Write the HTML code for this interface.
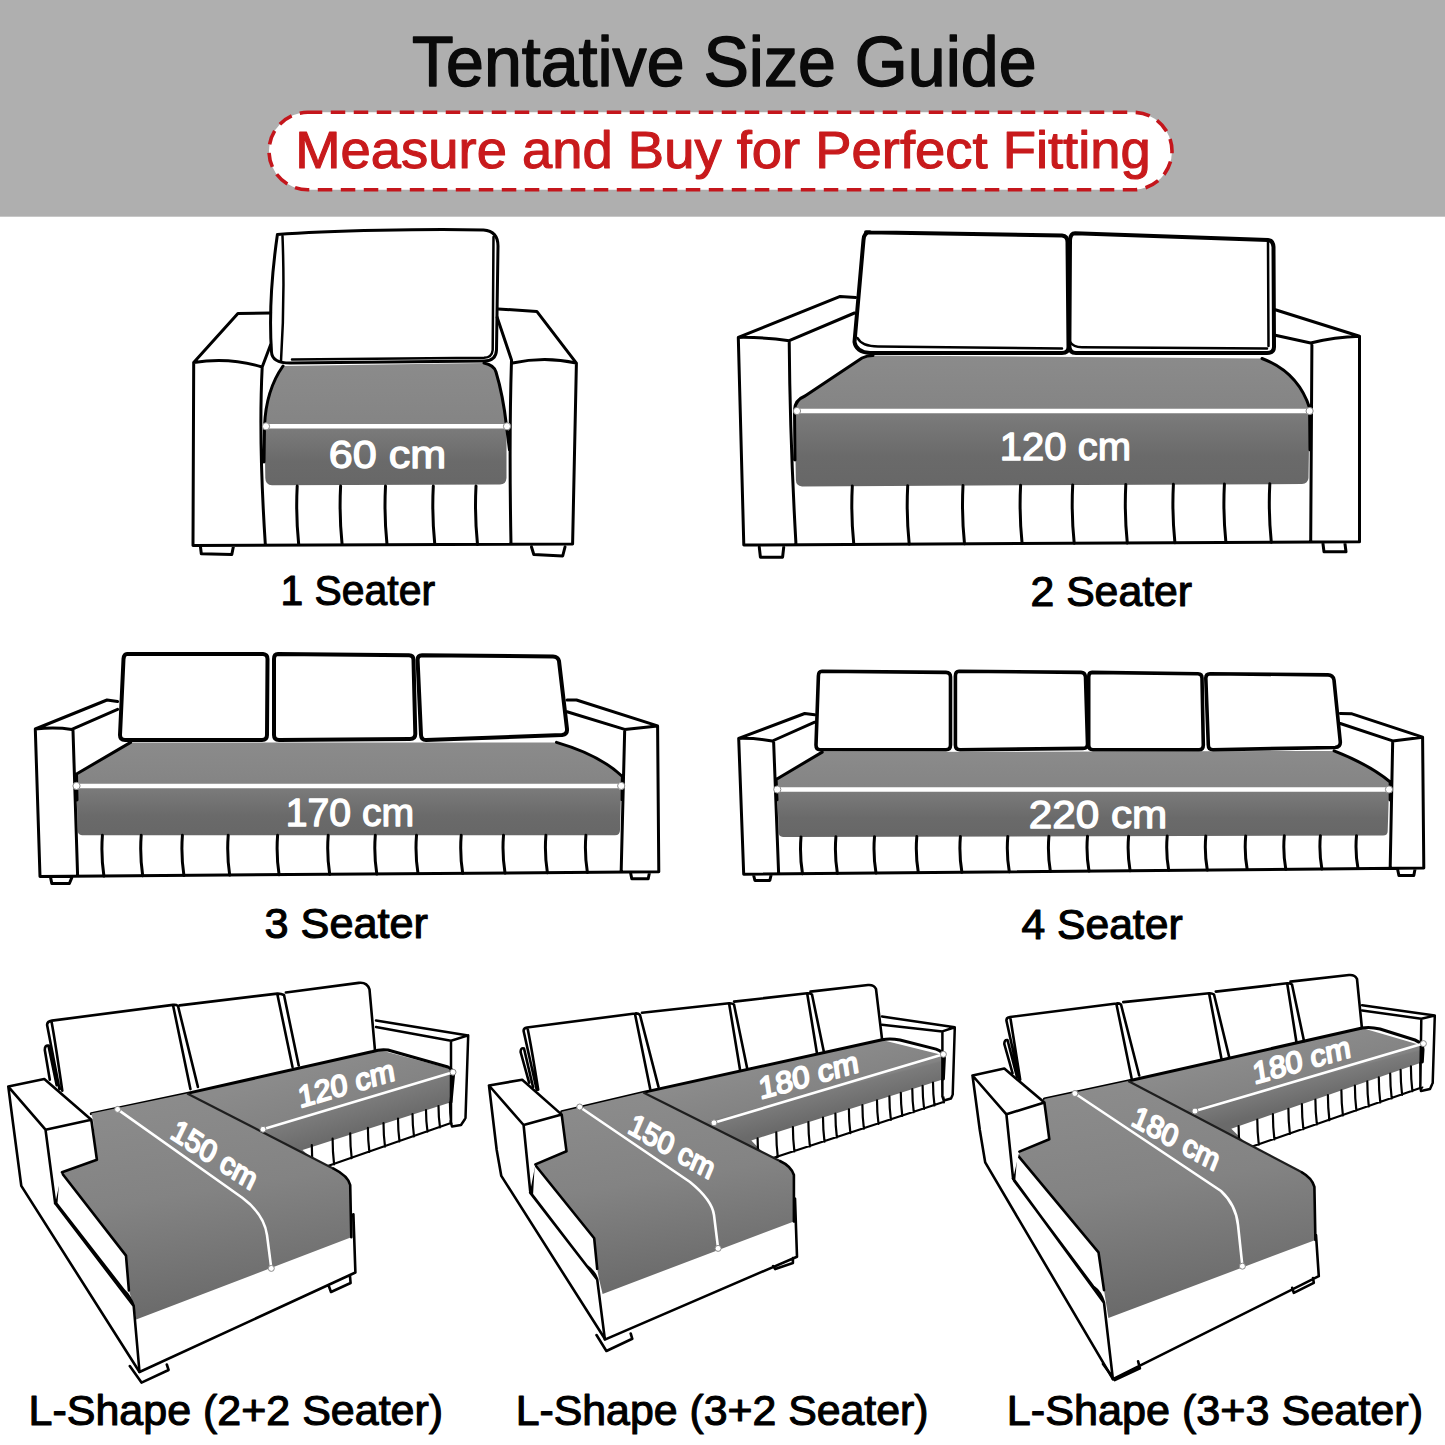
<!DOCTYPE html>
<html><head><meta charset="utf-8"><title>Tentative Size Guide</title>
<style>
html,body{margin:0;padding:0;background:#fff;}
body{width:1445px;height:1445px;overflow:hidden;}
svg{display:block;}
text{font-family:"Liberation Sans",sans-serif;}
</style></head><body>
<svg width="1445" height="1445" viewBox="0 0 1445 1445">
<defs>

<linearGradient id="g1" gradientUnits="userSpaceOnUse" x1="0" y1="364" x2="0" y2="486"><stop offset="0" stop-color="#8b8b8b"/><stop offset="0.508" stop-color="#848484"/><stop offset="0.528" stop-color="#7b7b7b"/><stop offset="0.803" stop-color="#6a6a6a"/><stop offset="1" stop-color="#676767"/></linearGradient>
<linearGradient id="g2" gradientUnits="userSpaceOnUse" x1="0" y1="356" x2="0" y2="487"><stop offset="0" stop-color="#8b8b8b"/><stop offset="0.420" stop-color="#848484"/><stop offset="0.440" stop-color="#7b7b7b"/><stop offset="0.768" stop-color="#6a6a6a"/><stop offset="1" stop-color="#676767"/></linearGradient>
<linearGradient id="g3" gradientUnits="userSpaceOnUse" x1="0" y1="742" x2="0" y2="836"><stop offset="0" stop-color="#8b8b8b"/><stop offset="0.468" stop-color="#848484"/><stop offset="0.488" stop-color="#7b7b7b"/><stop offset="0.787" stop-color="#6a6a6a"/><stop offset="1" stop-color="#676767"/></linearGradient>
<linearGradient id="g4" gradientUnits="userSpaceOnUse" x1="0" y1="751" x2="0" y2="837"><stop offset="0" stop-color="#8b8b8b"/><stop offset="0.448" stop-color="#848484"/><stop offset="0.468" stop-color="#7b7b7b"/><stop offset="0.779" stop-color="#6a6a6a"/><stop offset="1" stop-color="#676767"/></linearGradient>
<linearGradient id="gc" gradientUnits="objectBoundingBox" x1="0.3" y1="0" x2="0.5" y2="1">
<stop offset="0" stop-color="#8c8c8c"/><stop offset="0.45" stop-color="#838383"/><stop offset="1" stop-color="#686868"/></linearGradient>
<linearGradient id="gr" gradientUnits="objectBoundingBox" x1="0.5" y1="0" x2="0.55" y2="1">
<stop offset="0" stop-color="#8a8a8a"/><stop offset="0.5" stop-color="#838383"/><stop offset="1" stop-color="#6e6e6e"/></linearGradient>

<linearGradient id="gr1" gradientUnits="userSpaceOnUse" x1="320" y1="1063.4" x2="342.3" y2="1137.2"><stop offset="0" stop-color="#8b8b8b"/><stop offset="0.600" stop-color="#838383"/><stop offset="0.630" stop-color="#7b7b7b"/><stop offset="1" stop-color="#6a6a6a"/></linearGradient>
<linearGradient id="gr2" gradientUnits="userSpaceOnUse" x1="800" y1="1057.8" x2="816" y2="1119.8"><stop offset="0" stop-color="#8b8b8b"/><stop offset="0.585" stop-color="#838383"/><stop offset="0.615" stop-color="#7b7b7b"/><stop offset="1" stop-color="#6a6a6a"/></linearGradient>
<linearGradient id="gr3" gradientUnits="userSpaceOnUse" x1="1290" y1="1044.3" x2="1305.1" y2="1103.1"><stop offset="0" stop-color="#8b8b8b"/><stop offset="0.610" stop-color="#838383"/><stop offset="0.640" stop-color="#7b7b7b"/><stop offset="1" stop-color="#6a6a6a"/></linearGradient>
</defs>
<rect x="0" y="0" width="1445" height="216.7" fill="#afafaf"/>
<text x="412" y="86.3" font-size="70" fill="#0a0a0a" stroke="#0a0a0a" stroke-width="1.5" stroke-linejoin="round" text-anchor="start" textLength="624.5" lengthAdjust="spacingAndGlyphs" >Tentative Size Guide</text>
<rect x="269" y="112.3" width="903" height="77.5" rx="38.75" ry="38.75" fill="#fff" stroke="#c4161c" stroke-width="3.6" stroke-dasharray="14.5 8.5"/>
<text x="295.3" y="167.9" font-size="52.7" fill="#c81a1c" stroke="#c81a1c" stroke-width="1.1" stroke-linejoin="round" text-anchor="start" textLength="855.5" lengthAdjust="spacingAndGlyphs" >Measure and Buy for Perfect Fitting</text>
<g>
<path d="M283,366 L484,363 Q494,365 496,372 Q503,395 506.5,426 L506.5,478 Q506,484.5 500,484.5 L272,485.3 Q265.5,485 265.3,478 L264.5,426 Q266,390 283,366 Z" fill="url(#g1)"/>
<path fill="none" stroke="#000" stroke-linecap="round" stroke-linejoin="round" stroke-width="3" d="M270.6,312.9 L237.9,313.6 L193.7,362.4 L193,545.4 M193.7,362.4 Q230,357 262.2,367 M270.6,344.8 L262.2,367 Q258.5,440 265.3,544 M498,309 L536.8,311.4 L576.4,363.1 L572.6,544 M512.5,363 Q545,356 576.4,363.1 M497.2,317.4 L511.5,360 Q509,440 511,544 M193,545.4 L572.6,544 M200.5,547 L201.3,553.8 L231.8,554.5 L233.3,547 M531.5,547 L533.8,554.5 L562.7,556 L565,547 M283,366 Q266,390 264.5,426 L264,462 M484,363 Q494,365 496,372 Q503,395 506.5,426 L509.5,450"/>
<path fill="none" stroke="#000" stroke-linecap="round" stroke-linejoin="round" stroke-width="3" fill="#fff" d="M277.4,234.5 C330,230 430,229 483.5,229.9 Q498,231 498,246 L496.5,350 Q496,361 484,361 L290,363 Q272,363 271.5,352 Q268,300 277.4,234.5 Z"/>
<path fill="none" stroke="#000" stroke-linecap="round" stroke-linejoin="round" stroke-width="2.5" d="M282.5,236 Q285,300 281,361 M493.5,237 L492.7,350 Q492,357.5 484,357.8 L292,359.5"/>
<path fill="none" stroke="#000" stroke-linecap="round" stroke-linejoin="round" stroke-width="3" d="M297.2,486.0 Q295.7,515.2 298.7,544.5 M340.6,486.0 Q339.1,515.2 342.1,544.5 M385.5,486.0 Q384.0,515.2 387.0,544.5 M433.3,486.0 Q431.8,515.2 434.8,544.5 M476.0,486.0 Q474.5,515.2 477.5,544.5 "/>
<path d="M266,426.3 L507,426.3" stroke="#fff" stroke-width="4.5"/><circle cx="266" cy="426.3" r="3.6" fill="#fff" stroke="#8a8a8a" stroke-width="1"/><circle cx="507" cy="426.3" r="3.6" fill="#fff" stroke="#8a8a8a" stroke-width="1"/>
<text x="328.7" y="467.5" font-size="39.4" fill="#fff" stroke="#fff" stroke-width="1.3" stroke-linejoin="round" text-anchor="start" textLength="117.5" lengthAdjust="spacingAndGlyphs" >60 cm</text>
<text x="280.5" y="605.0" font-size="42" fill="#000" stroke="#000" stroke-width="1.1" stroke-linejoin="round" text-anchor="start" textLength="154.5" lengthAdjust="spacingAndGlyphs" >1 Seater</text>
</g>
<g>
<path d="M873,355.5 L1262,358.5 Q1298,372 1309.6,408 L1308.5,478 Q1308,483.5 1302,484 L802,486.4 Q796,486 795.9,480 L794.5,410 Q795,400 805,396 L862,358 Q867,355.5 873,355.5 Z" fill="url(#g2)"/>
<path fill="none" stroke="#000" stroke-linecap="round" stroke-linejoin="round" stroke-width="3" d="M855.7,297.5 L840.2,296.4 L738.3,337.4 L743.8,545 M738.3,337.4 Q765,337 789.2,340.7 L854.5,313 M789.2,340.7 Q790,440 795.9,542.8 M1275.3,309.7 L1359.5,336.3 L1359.5,541.7 M1275.3,335.2 L1310.7,343 Q1335,337 1359.5,336.3 M1311.9,345 L1310.7,541.7 M743.8,545 L1359.5,541.7 M759.3,547.3 L760.4,557.2 L782.6,557.2 L783.7,547.3 M1323,544 L1324,551.7 L1346,551.7 L1345,544 M873,355.5 Q867,355.5 862,358 L805,396 Q795,400 794.5,410 L795,460 M1262,358.5 Q1298,372 1309.6,408 L1310,450"/>
<path fill="none" stroke="#000" stroke-linecap="round" stroke-linejoin="round" stroke-width="4" fill="#fff" d="M866,232.2 L1062,235.5 Q1067.5,236 1067.5,242 L1068.5,347 Q1068.5,353 1062,353 L870,353 Q856,352 854.5,342 L863.5,240 Q864,232.2 870,232.2 Z"/>
<path fill="none" stroke="#000" stroke-linecap="round" stroke-linejoin="round" stroke-width="4" fill="#fff" d="M1075,233.3 L1268,240 Q1273,240.5 1273.5,247 L1274,347 Q1274,353 1267,353 L1076,353 Q1069.4,353 1069.4,346 L1070,240 Q1070.5,233.3 1075,233.3 Z"/>
<path fill="none" stroke="#000" stroke-linecap="round" stroke-linejoin="round" stroke-width="2.5" d="M857.5,338 Q862,346.5 878,346.5 L1062,348.5 M1069.5,341 Q1073,347.3 1082,347.3 L1267,348.5 M1268,242 L1268.5,346"/>
<path fill="none" stroke="#000" stroke-linecap="round" stroke-linejoin="round" stroke-width="3" d="M852.3,486.1 Q850.8,515.3 853.8,544.4 M907.7,485.8 Q906.2,515.0 909.2,544.1 M963.0,485.5 Q961.5,514.7 964.5,543.8 M1020.6,485.2 Q1019.1,514.3 1022.1,543.5 M1072.7,484.9 Q1071.2,514.1 1074.2,543.2 M1125.8,484.6 Q1124.3,513.8 1127.3,543.0 M1173.4,484.3 Q1171.9,513.5 1174.9,542.7 M1224.4,484.1 Q1222.9,513.2 1225.9,542.4 M1269.8,483.8 Q1268.3,513.0 1271.3,542.2 "/>
<path d="M797,411 L1309.6,411" stroke="#fff" stroke-width="4.5"/><circle cx="797" cy="411" r="3.6" fill="#fff" stroke="#8a8a8a" stroke-width="1"/><circle cx="1309.6" cy="411" r="3.6" fill="#fff" stroke="#8a8a8a" stroke-width="1"/>
<text x="999.8" y="459.7" font-size="39.4" fill="#fff" stroke="#fff" stroke-width="1.3" stroke-linejoin="round" text-anchor="start" textLength="131.2" lengthAdjust="spacingAndGlyphs" >120 cm</text>
<text x="1030.5" y="605.5" font-size="42" fill="#000" stroke="#000" stroke-width="1.1" stroke-linejoin="round" text-anchor="start" textLength="161.5" lengthAdjust="spacingAndGlyphs" >2 Seater</text>
</g>
<g>
<path d="M130.6,742.4 L556.5,742.4 Q600,755 622.4,776.5 L621.2,786 L620,830 Q620,835.3 615,835.3 L82,835.3 Q77.6,835 77.6,830 L76.5,786 L76.5,774 Z" fill="url(#g3)"/>
<path fill="none" stroke="#000" stroke-linecap="round" stroke-linejoin="round" stroke-width="3" d="M117.6,701.6 L107,700 L35.3,729 L40,876.5 M35.3,729 Q55,727 71.8,729.4 L117.6,709.4 M73,730.6 L77.6,875.3 M567,700 L576.5,700 L657.6,725.9 L658.8,871.8 M567,711.8 L624.7,729.4 L657.6,725.9 M624.7,729.4 L621.2,870.6 M40,876.5 L658.8,871.8 M50.6,877.6 L51.8,883.5 L69.4,883.5 L71.8,877.6 M630.6,873 L631.8,878.8 L648.2,878.8 L649.4,873 M130.6,742.4 L76.5,774 L77,800 M556.5,742.4 Q600,755 622.4,776.5 L622,800"/>
<path fill="none" stroke="#000" stroke-linecap="round" stroke-linejoin="round" stroke-width="4" fill="#fff" d="M127,654.1 L263,654.1 Q267.5,654.5 267.5,659 L267,735 Q267,740 262,740 L125,740 Q120,740 120,735 L123.5,659 Q124,654.1 127,654.1Z"/>
<path fill="none" stroke="#000" stroke-linecap="round" stroke-linejoin="round" stroke-width="4" fill="#fff" d="M278,654 L409,655.3 Q413.5,655.5 413.5,660 L415.3,734 Q415.3,739 410,739 L279,740 Q274,740 274,735 L274,659 Q274,654 278,654Z"/>
<path fill="none" stroke="#000" stroke-linecap="round" stroke-linejoin="round" stroke-width="4" fill="#fff" d="M422,655.3 L553,656.5 Q558,656.8 559,661 L567,729 Q567.5,734 562,735 L426,740 Q421.2,740 421,735 L417.6,660 Q417.6,655.3 422,655.3Z"/>
<path fill="none" stroke="#000" stroke-linecap="round" stroke-linejoin="round" stroke-width="3" d="M102.4,835.3 Q100.9,855.7 103.9,876.0 M141.2,835.3 Q139.7,855.5 142.7,875.7 M182.4,835.3 Q180.9,855.4 183.9,875.4 M228.2,835.3 Q226.7,855.2 229.7,875.1 M277.6,835.3 Q276.1,855.0 279.1,874.7 M328.2,835.3 Q326.7,854.8 329.7,874.3 M375.3,835.3 Q373.8,854.6 376.8,874.0 M416.5,835.3 Q415.0,854.5 418.0,873.6 M461.2,835.3 Q459.7,854.3 462.7,873.3 M503.5,835.3 Q502.0,854.1 505.0,873.0 M545.9,835.3 Q544.4,854.0 547.4,872.7 M585.9,835.3 Q584.4,853.8 587.4,872.4 "/>
<path d="M76.5,785.9 L621.2,785.9" stroke="#fff" stroke-width="4.5"/><circle cx="76.5" cy="785.9" r="3.6" fill="#fff" stroke="#8a8a8a" stroke-width="1"/><circle cx="621.2" cy="785.9" r="3.6" fill="#fff" stroke="#8a8a8a" stroke-width="1"/>
<text x="285.7" y="825.8" font-size="39.4" fill="#fff" stroke="#fff" stroke-width="1.3" stroke-linejoin="round" text-anchor="start" textLength="128.6" lengthAdjust="spacingAndGlyphs" >170 cm</text>
<text x="264.5" y="938.3" font-size="42" fill="#000" stroke="#000" stroke-width="1.1" stroke-linejoin="round" text-anchor="start" textLength="163.5" lengthAdjust="spacingAndGlyphs" >3 Seater</text>
</g>
<g>
<path d="M822.2,752.1 L1334.1,750.9 Q1370,765 1390.2,782 L1389,789.5 L1387.7,831 Q1387.7,835.6 1383,835.6 L783,836.9 Q778.6,836.9 778.6,832 L777.3,789.5 L776.1,779.5 Z" fill="url(#g4)"/>
<path fill="none" stroke="#000" stroke-linecap="round" stroke-linejoin="round" stroke-width="3" d="M814.7,714.8 L804.7,713.5 L738.7,738.4 L743.7,874.2 M738.7,738.4 Q755,738 772.3,741 L814.7,722.2 M773.6,741 L778.6,873 M1340.3,713.5 L1352,713.8 L1422.6,737.2 L1423.8,868 M1340.3,723.5 L1392.7,740.9 L1422.6,737.2 M1392.7,740.9 L1390.2,866.7 M743.7,874.2 L1423.8,868 M753.7,875.5 L754.9,880.5 L769.8,880.5 L771,875.5 M1397.6,869.2 L1398.9,875.5 L1413.8,875.5 L1415,869.2 M822.2,752.1 L776.1,779.5 L777,800 M1334.1,750.9 Q1370,765 1390.2,782 L1390,800"/>
<path fill="none" stroke="#000" stroke-linecap="round" stroke-linejoin="round" stroke-width="3.6" fill="#fff" d="M822,671.2 L946,672.4 Q950.5,672.5 950.5,677 L950.5,745 Q950.5,749.7 946,749.7 L820,749.7 Q816,749.7 816,745 L818.4,676 Q818.4,671.2 822,671.2Z"/>
<path fill="none" stroke="#000" stroke-linecap="round" stroke-linejoin="round" stroke-width="3.6" fill="#fff" d="M959,671.2 L1081,672.4 Q1085,672.5 1085.5,677 L1087.5,744 Q1087.5,748.4 1083,748.4 L960,749.7 Q955.4,749.7 955.4,745 L955.4,676 Q955.4,671.2 959,671.2Z"/>
<path fill="none" stroke="#000" stroke-linecap="round" stroke-linejoin="round" stroke-width="3.6" fill="#fff" d="M1092,672.4 L1198,673.7 Q1202,673.7 1202,678 L1203.3,745 Q1203.3,749.7 1199,749.7 L1093,749.7 Q1088.7,749.7 1088.7,745 L1088.7,677 Q1088.7,672.4 1092,672.4Z"/>
<path fill="none" stroke="#000" stroke-linecap="round" stroke-linejoin="round" stroke-width="3.6" fill="#fff" d="M1210,673.7 L1328,674.9 Q1333,675 1334,680 L1340.3,742 Q1340.5,747.2 1335,747.5 L1213,749.7 Q1208.3,749.7 1208.3,745 L1205.8,678 Q1205.8,673.7 1210,673.7Z"/>
<path fill="none" stroke="#000" stroke-linecap="round" stroke-linejoin="round" stroke-width="3" d="M801.0,836.9 Q799.5,855.3 802.5,873.7 M835.9,836.8 Q834.4,855.1 837.4,873.4 M874.5,836.7 Q873.0,854.9 876.0,873.0 M916.8,836.6 Q915.3,854.6 918.3,872.6 M960.4,836.5 Q958.9,854.4 961.9,872.2 M1007.8,836.4 Q1006.3,854.1 1009.3,871.8 M1048.9,836.3 Q1047.4,853.9 1050.4,871.4 M1087.5,836.2 Q1086.0,853.7 1089.0,871.1 M1128.6,836.2 Q1127.1,853.4 1130.1,870.7 M1167.2,836.1 Q1165.7,853.2 1168.7,870.3 M1205.8,836.0 Q1204.3,853.0 1207.3,870.0 M1245.7,835.9 Q1244.2,852.8 1247.2,869.6 M1284.3,835.8 Q1282.8,852.5 1285.8,869.3 M1320.4,835.7 Q1318.9,852.3 1321.9,868.9 M1356.5,835.7 Q1355.0,852.1 1358.0,868.6 "/>
<path d="M777.3,789.5 L1389,789.5" stroke="#fff" stroke-width="4.5"/><circle cx="777.3" cy="789.5" r="3.6" fill="#fff" stroke="#8a8a8a" stroke-width="1"/><circle cx="1389" cy="789.5" r="3.6" fill="#fff" stroke="#8a8a8a" stroke-width="1"/>
<text x="1028.7" y="828" font-size="39.4" fill="#fff" stroke="#fff" stroke-width="1.3" stroke-linejoin="round" text-anchor="start" textLength="138.5" lengthAdjust="spacingAndGlyphs" >220 cm</text>
<text x="1021.5" y="938.5" font-size="42" fill="#000" stroke="#000" stroke-width="1.1" stroke-linejoin="round" text-anchor="start" textLength="161.1" lengthAdjust="spacingAndGlyphs" >4 Seater</text>
</g>
<g>
<path d="M187.2,1093.4 L372.7,1051.5 Q380,1049 388,1050 L448,1067 Q454,1070 453.5,1075 L451,1102.3 L302.5,1150 L330,1175 L180,1100 Z" fill="url(#gr1)"/>
<path fill="none" stroke="#000" stroke-linecap="round" stroke-linejoin="round" stroke-width="2.2" d="M311.8,1145.1 Q311.8,1158.4 313.3,1171.6 M332.6,1138.7 Q332.6,1151.5 334.1,1164.3 M350.2,1133.3 Q350.2,1145.7 351.7,1158.2 M367.9,1127.9 Q367.9,1139.9 369.4,1152.0 M383.5,1123.1 Q383.5,1134.8 385.0,1146.6 M398.0,1118.6 Q398.0,1130.1 399.5,1141.5 M412.5,1114.1 Q412.5,1125.3 414.0,1136.4 M426.0,1110.0 Q426.0,1120.9 427.5,1131.7 M438.5,1106.1 Q438.5,1116.8 440.0,1127.4 M449.9,1102.6 Q449.9,1113.0 451.4,1123.4  M302,1175 L451,1123"/>
<path fill="#fff" d="M376,1020.4 L468.2,1035.4 L465.5,1117.9 L451,1123 L451,1069 L376,1049 Z"/>
<path fill="none" stroke="#000" stroke-linecap="round" stroke-linejoin="round" stroke-width="2.5" d="M376,1020.4 L468.2,1035.4 L465.5,1117.9 M376,1026.9 L451,1040.8 L468.2,1035.4 M451,1040.8 L451,1123 M450.5,1121 L452,1126.5 L461,1125 L465,1119"/>
<path fill="#fff" d="M59.5,1089.3 L45,1051 L48.4,1046.4 L52,1020.6 L173,1004.9 L358.8,982.9 L369.5,989.3 L376,1049.4 L187.2,1093.4 L91.3,1113.6 Z"/>
<path fill="none" stroke="#000" stroke-linecap="round" stroke-linejoin="round" stroke-width="2.6" d="M49.8,1079.7 L44.8,1050 Q44.8,1045 48.4,1045.5 L56.7,1085.2 M59.5,1089.3 L47.1,1025 Q47,1021.3 52,1020.6 L173,1004.9 Q176,1004.5 178,1006 L197.9,1086.9 M51.5,1021.5 Q55,1040 62.3,1090.7 M173,1005 L190.4,1089.1 M179.7,1005.4 L277.3,993.6 Q281,993.5 284,995 L298.7,1065.5 M277.3,994 L292.5,1067 M285.9,992.5 L358.8,982.9 Q367,982 369.5,989.3 L374.9,1049.4"/>
<path fill="none" stroke="#000" stroke-linecap="round" stroke-linejoin="round" stroke-width="3" d="M91.3,1113.6 L187.2,1093.4 L372.7,1051.5 Q380,1049 388,1050 L448,1067 Q454,1070 453.5,1075 L451,1102"/>
<path d="M91.3,1113.6 L187.2,1093.4 L333.6,1168.7 Q348,1176 350.2,1185 L351.3,1237.2 L136.2,1319.6 L133.7,1306 L128.9,1290.5 L126,1255.6 L62,1173.3 Q63,1170 68,1169 L96.9,1159.7 L93,1120 Z" fill="url(#gc)"/>
<path fill="none" stroke="#1e1e1e" stroke-width="2.2" d="M187.2,1093.4 L333.6,1168.7"/>
<path fill="none" stroke="#000" stroke-linecap="round" stroke-linejoin="round" stroke-width="2.6" d="M333.6,1168.7 Q348,1176 350.2,1185 L351.3,1237.2 M62,1173.3 L126,1255.6 L128.9,1290.5 M58.1,1178 L56.2,1203.3 L124,1290.5 Q130,1296 133.7,1306 M55.2,1203.3 L133.7,1306 L139.5,1372 M139.5,1372 L355.4,1272.5 L353.4,1214.4 M129.8,1366 L141.5,1382.6 L168.6,1370 L166.8,1364.5 M328.9,1286.2 L331,1292 L350.6,1283 L350,1276"/>
<path fill="#fff" d="M8.3,1086.6 L44.3,1079 L91.3,1119.8 L96.9,1159.7 L62,1172.3 L55.2,1203.3 L21.3,1185.9 Z"/>
<path fill="none" stroke="#000" stroke-linecap="round" stroke-linejoin="round" stroke-width="2.6" d="M8.3,1086.6 L44.3,1079 L91.3,1119.8 L45.5,1129.7 Z M45.5,1129.7 L55.2,1203.3 M91.3,1119.8 L96.9,1159.7 L62,1172.3 M8.3,1086.6 L12.6,1120 L21.3,1185.9 L139.5,1372"/>
<path fill="none" stroke="#fff" stroke-width="2.6" d="M263,1129.3 L453,1072.2 M117.6,1109.4 L242.3,1197.8 Q264,1214 267,1235 L271.3,1268.4"/>
<circle cx="117.6" cy="1109.4" r="3" fill="#fff" stroke="#8a8a8a" stroke-width="1"/>
<circle cx="263" cy="1129.3" r="3" fill="#fff" stroke="#8a8a8a" stroke-width="1"/>
<circle cx="453" cy="1072.2" r="3" fill="#fff" stroke="#8a8a8a" stroke-width="1"/>
<circle cx="271.3" cy="1268.4" r="3" fill="#fff" stroke="#8a8a8a" stroke-width="1"/>
<text x="0" y="0" font-size="30" fill="#fff" stroke="#fff" stroke-width="1.9" stroke-linejoin="round" text-anchor="middle" textLength="100" lengthAdjust="spacingAndGlyphs" transform="translate(348,1094) rotate(-16.3) skewX(-7)">120 cm</text>
<text x="0" y="0" font-size="30" fill="#fff" stroke="#fff" stroke-width="1.9" stroke-linejoin="round" text-anchor="middle" textLength="98" lengthAdjust="spacingAndGlyphs" transform="translate(210,1164) rotate(33) skewX(7)">150 cm</text>
<text x="28.6" y="1425.2" font-size="42" fill="#000" stroke="#000" stroke-width="1.1" stroke-linejoin="round" text-anchor="start" textLength="414.5" lengthAdjust="spacingAndGlyphs" >L-Shape (2+2 Seater)</text>
</g>
<g>
<path d="M643.3,1092.4 L882.1,1039.7 Q890,1038 900,1040 L936.1,1049.1 Q944.4,1052 944.4,1058 L943.4,1079.2 L751.3,1140.4 L775,1165 L636,1097 Z" fill="url(#gr2)"/>
<path fill="none" stroke="#000" stroke-linecap="round" stroke-linejoin="round" stroke-width="2.2" d="M757.6,1138.4 Q757.6,1150.8 759.1,1163.1 M776.3,1132.4 Q776.3,1144.7 777.8,1157.0 M792.9,1127.1 Q792.9,1139.3 794.4,1151.5 M808.4,1122.2 Q808.4,1134.3 809.9,1146.4 M823.0,1117.6 Q823.0,1129.6 824.5,1141.6 M835.4,1113.6 Q835.4,1125.6 836.9,1137.5 M848.9,1109.3 Q848.9,1121.2 850.4,1133.1 M862.4,1105.0 Q862.4,1116.8 863.9,1128.7 M877.0,1100.4 Q877.0,1112.1 878.5,1123.9 M889.4,1096.4 Q889.4,1108.1 890.9,1119.8 M900.8,1092.8 Q900.8,1104.4 902.3,1116.0 M912.3,1089.1 Q912.3,1100.7 913.8,1112.2 M922.6,1085.8 Q922.6,1097.3 924.1,1108.8 M933.0,1082.5 Q933.0,1094.0 934.5,1105.4 M942.4,1079.5 Q942.4,1090.9 943.9,1102.3  M755,1164 L943.4,1102"/>
<path fill="#fff" d="M882,1016.5 L954.8,1027.3 L952.7,1094.7 L942.4,1096.8 L942.4,1055 L882,1040 Z"/>
<path fill="none" stroke="#000" stroke-linecap="round" stroke-linejoin="round" stroke-width="2.5" d="M882,1016.5 L954.8,1027.3 L952.7,1094.7 M882,1024.8 L942.4,1031.4 L954.8,1027.3 M942.4,1031.4 L942.4,1096.8 M942.4,1096.8 L944,1100.5 L951,1098.5 L952.7,1094.7"/>
<path fill="#fff" d="M536.7,1089.7 L520.8,1052 L524,1048.5 L523.6,1031 L527,1027.5 L635,1013.5 L807.2,993.3 L872,985 L882,1039.7 L643.3,1092.4 L561.7,1111.8 Z"/>
<path fill="none" stroke="#000" stroke-linecap="round" stroke-linejoin="round" stroke-width="2.6" d="M529.1,1082.7 L520.6,1052 Q520.6,1047.5 524,1048.5 L533,1087 M536.7,1089.7 L523.6,1031 Q523.5,1028.1 527,1027.5 L635,1013.5 Q638,1013 640,1015 L658.5,1086.9 M527.8,1029.4 Q532,1050 538.2,1089.7 M635,1014 L650.2,1089 M642,1012.8 L729.1,1003.2 Q732,1003 734,1004.5 L747.2,1068.5 M729.1,1003.5 L740,1069.5 M734.1,1001.6 L807.2,993.3 Q810,993 812,994.5 L824,1052.5 M807.2,993.5 L817,1053.5 M810.5,991.6 L868,985 Q874,984.5 876,989 L882.1,1039.7"/>
<path fill="none" stroke="#000" stroke-linecap="round" stroke-linejoin="round" stroke-width="3" d="M561.7,1111.8 L643.3,1092.4 L882.1,1039.7 Q890,1038 900,1040 L936.1,1049.1 Q944.4,1052 944.4,1058 L943.4,1079"/>
<path d="M561.7,1111.8 L643.3,1092.4 L780.4,1161.2 Q791,1166 793.9,1175 L793.9,1221.4 L602.6,1293.9 L598.8,1277.9 L597.2,1268.8 L594.2,1238.3 L534.8,1164.5 Q536,1162 540,1161 L566.5,1151.3 L561.7,1115.3 Z" fill="url(#gc)"/>
<path fill="none" stroke="#1e1e1e" stroke-width="2.2" d="M643.3,1092.4 L780.4,1161.2"/>
<path fill="none" stroke="#000" stroke-linecap="round" stroke-linejoin="round" stroke-width="2.6" d="M780.4,1161.2 Q791,1166 793.9,1175 L793.9,1221.4 M534.8,1164.5 L594.2,1238.3 L597.2,1268.8 M533.3,1166.7 L531.8,1194.2 L586.6,1265.7 Q595,1272 597.2,1279.4 M530.2,1192.6 L597.2,1279.4 L604.8,1338.8 M604.8,1339.6 L797,1256.7 L795,1198.5 M596.5,1335 L606.4,1351 L632.3,1338.8 L630.7,1333.5 M773.1,1266 L775.2,1269.1 L792.9,1262.9 L792.9,1258"/>
<path fill="#fff" d="M489,1085.5 L522.2,1079.7 L561.7,1114.6 L566.5,1151.3 L535.4,1164.4 L530.2,1191.1 L501.3,1175.9 Z"/>
<path fill="none" stroke="#000" stroke-linecap="round" stroke-linejoin="round" stroke-width="2.6" d="M489,1085.5 L522.2,1079.7 L561.7,1114.6 L523.6,1125 Z M523.6,1125 L530.2,1191.1 M561.7,1114.6 L566.5,1151.3 L535.4,1164.4 M489,1085.5 L496.7,1150 L501.3,1175.9 L604.8,1338.8"/>
<path fill="none" stroke="#fff" stroke-width="2.6" d="M714,1122.8 L943.4,1054.3 M579.7,1107 L690,1182 Q712,1200 714,1215 L718.1,1248.4"/>
<circle cx="579.7" cy="1107" r="3" fill="#fff" stroke="#8a8a8a" stroke-width="1"/>
<circle cx="714" cy="1122.8" r="3" fill="#fff" stroke="#8a8a8a" stroke-width="1"/>
<circle cx="943.4" cy="1054.3" r="3" fill="#fff" stroke="#8a8a8a" stroke-width="1"/>
<circle cx="718.1" cy="1248.4" r="3" fill="#fff" stroke="#8a8a8a" stroke-width="1"/>
<text x="0" y="0" font-size="30" fill="#fff" stroke="#fff" stroke-width="1.9" stroke-linejoin="round" text-anchor="middle" textLength="103" lengthAdjust="spacingAndGlyphs" transform="translate(810,1085.5) rotate(-15.6) skewX(-7)">180 cm</text>
<text x="0" y="0" font-size="30" fill="#fff" stroke="#fff" stroke-width="1.9" stroke-linejoin="round" text-anchor="middle" textLength="96" lengthAdjust="spacingAndGlyphs" transform="translate(668,1156) rotate(30) skewX(7)">150 cm</text>
<text x="515.7" y="1425.2" font-size="42" fill="#000" stroke="#000" stroke-width="1.1" stroke-linejoin="round" text-anchor="start" textLength="412.9" lengthAdjust="spacingAndGlyphs" >L-Shape (3+2 Seater)</text>
</g>
<g>
<path d="M1128.2,1081 L1362.1,1028 Q1370,1026.5 1380,1029 L1415,1040 Q1423.4,1043.6 1423,1050 L1422.3,1062.3 L1231.3,1128.7 L1255,1152 L1121,1086 Z" fill="url(#gr3)"/>
<path fill="none" stroke="#000" stroke-linecap="round" stroke-linejoin="round" stroke-width="2.2" d="M1238.6,1126.2 Q1238.6,1138.7 1240.1,1151.2 M1257.3,1119.7 Q1257.3,1132.2 1258.8,1144.7 M1272.9,1114.2 Q1272.9,1126.8 1274.4,1139.3 M1288.4,1108.8 Q1288.4,1121.4 1289.9,1133.9 M1301.9,1104.2 Q1301.9,1116.7 1303.4,1129.2 M1315.4,1099.5 Q1315.4,1112.0 1316.9,1124.5 M1327.9,1095.1 Q1327.9,1107.6 1329.4,1120.1 M1341.4,1090.4 Q1341.4,1102.9 1342.9,1115.4 M1354.9,1085.7 Q1354.9,1098.2 1356.4,1110.7 M1367.3,1081.4 Q1367.3,1093.9 1368.8,1106.4 M1378.8,1077.4 Q1378.8,1089.9 1380.3,1102.4 M1390.2,1073.5 Q1390.2,1085.9 1391.7,1098.4 M1400.6,1069.8 Q1400.6,1082.3 1402.1,1094.8 M1410.9,1066.3 Q1410.9,1078.7 1412.4,1091.2 M1420.3,1063.0 Q1420.3,1075.4 1421.8,1087.9  M1235,1152.5 L1422.3,1087.2"/>
<path fill="#fff" d="M1362.1,1005.2 L1434.8,1015.6 L1432.7,1083 L1420.3,1087.2 L1420.3,1045 L1362.1,1028 Z"/>
<path fill="none" stroke="#000" stroke-linecap="round" stroke-linejoin="round" stroke-width="2.5" d="M1362.1,1005.2 L1434.8,1015.6 L1432.7,1083 M1362.1,1010.4 L1421.3,1018.7 L1434.8,1015.6 M1421.3,1018.7 L1420.3,1087.2 M1420.3,1087.2 L1421,1091 L1430,1089 L1432.7,1083"/>
<path fill="#fff" d="M1019.5,1079.7 L1004.3,1043 L1007.5,1040 L1006.4,1020.5 L1010,1017 L1116.4,1003.5 L1287.2,983.3 L1353.6,975 L1361.9,1028 L1128.2,1081 L1044.4,1099 Z"/>
<path fill="none" stroke="#000" stroke-linecap="round" stroke-linejoin="round" stroke-width="2.6" d="M1012.5,1073 L1004.3,1044 Q1004.3,1039.5 1007.5,1040 L1017,1077 M1019.5,1079.7 L1006.4,1020.5 Q1006.4,1017.4 1010,1017 L1116.4,1003.5 Q1119,1003 1121,1004.5 L1139.2,1075.5 M1010.5,1018.8 Q1014,1040 1020.2,1079.7 M1116.4,1004 L1131.6,1078.3 M1123.3,1002.1 L1209.1,993.2 Q1212,993 1214,994.5 L1229.3,1057.5 M1209.1,993.5 L1221.5,1059 M1215.8,991.6 L1287.2,983.3 Q1290,983 1292,984.5 L1304,1041 M1287.2,983.5 L1296.5,1042.5 M1290.5,981.6 L1349,975 Q1355,974.5 1357,979 L1361.9,1028"/>
<path fill="none" stroke="#000" stroke-linecap="round" stroke-linejoin="round" stroke-width="3" d="M1044.4,1099 L1128.2,1081 L1362.1,1028 Q1370,1026.5 1380,1029 L1415,1040 Q1423.4,1043.6 1423,1050 L1422.3,1062"/>
<path d="M1044.4,1099 L1128.2,1081 L1301.9,1172.3 Q1312,1178 1314.4,1186.8 L1315.4,1240 L1108.4,1318 L1104,1290.1 L1098.5,1252.4 L1017.6,1155.2 Q1019,1152 1023,1151 L1049.3,1139.2 L1044.4,1103.9 Z" fill="url(#gc)"/>
<path fill="none" stroke="#1e1e1e" stroke-width="2.2" d="M1128.2,1081 L1301.9,1172.3"/>
<path fill="none" stroke="#000" stroke-linecap="round" stroke-linejoin="round" stroke-width="2.6" d="M1301.9,1172.3 Q1312,1178 1314.4,1186.8 L1315.4,1240 M1017.6,1155.2 L1098.5,1252.4 L1104,1290.1 M1015.8,1157 L1014,1180.4 L1093.2,1286.5 Q1101,1292 1104,1302.7 M1013.1,1178.6 L1104,1302.7 L1112.9,1379.2 M1112.9,1379.2 L1318.8,1276.2 L1316,1235 M1103,1363.9 L1114.7,1380.1 L1139.9,1368.4 L1138.1,1361.2 M1292.2,1287.8 L1293.8,1292.8 L1313.8,1282.8 L1313,1278"/>
<path fill="#fff" d="M972.5,1075.5 L1004.3,1068.6 L1044.4,1102.5 L1049.3,1139.2 L1019.4,1151.6 L1013.1,1178.6 L985.2,1162.4 Z"/>
<path fill="none" stroke="#000" stroke-linecap="round" stroke-linejoin="round" stroke-width="2.6" d="M972.5,1075.5 L1004.3,1068.6 L1044.4,1102.5 L1006.4,1114.3 Z M1006.4,1114.3 L1013.1,1178.6 M1044.4,1102.5 L1049.3,1139.2 L1019.4,1151.6 M972.5,1075.5 L979.8,1130 L985.2,1162.4 L1112.9,1379.2"/>
<path fill="none" stroke="#fff" stroke-width="2.6" d="M1195,1111.1 L1423.4,1043.6 M1074.9,1093.5 L1221,1191 Q1236,1205 1238,1225 L1242.4,1266.2"/>
<circle cx="1074.9" cy="1093.5" r="3" fill="#fff" stroke="#8a8a8a" stroke-width="1"/>
<circle cx="1195" cy="1111.1" r="3" fill="#fff" stroke="#8a8a8a" stroke-width="1"/>
<circle cx="1423.4" cy="1043.6" r="3" fill="#fff" stroke="#8a8a8a" stroke-width="1"/>
<circle cx="1242.4" cy="1266.2" r="3" fill="#fff" stroke="#8a8a8a" stroke-width="1"/>
<text x="0" y="0" font-size="30" fill="#fff" stroke="#fff" stroke-width="1.9" stroke-linejoin="round" text-anchor="middle" textLength="101" lengthAdjust="spacingAndGlyphs" transform="translate(1303,1070.5) rotate(-15.8) skewX(-7)">180 cm</text>
<text x="0" y="0" font-size="30" fill="#fff" stroke="#fff" stroke-width="1.9" stroke-linejoin="round" text-anchor="middle" textLength="97" lengthAdjust="spacingAndGlyphs" transform="translate(1172.5,1148) rotate(29) skewX(7)">180 cm</text>
<text x="1006.8" y="1425.2" font-size="42" fill="#000" stroke="#000" stroke-width="1.1" stroke-linejoin="round" text-anchor="start" textLength="416.3" lengthAdjust="spacingAndGlyphs" >L-Shape (3+3 Seater)</text>
</g>
</svg></body></html>
